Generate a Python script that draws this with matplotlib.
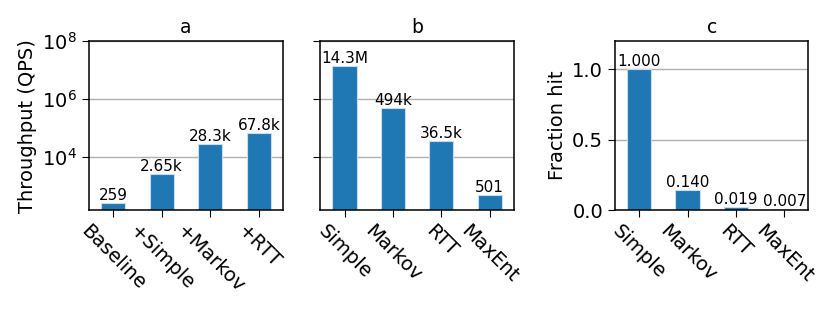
import matplotlib

matplotlib.use("Agg")
import matplotlib.pyplot as plt
from matplotlib.ticker import NullLocator

stages = ["Baseline", "+Simple", "+Markov", "+RTT"]
stage_qps = [259, 2650, 28300, 67800]
stage_text = ["259", "2.65k", "28.3k", "67.8k"]

models = ["Simple", "Markov", "RTT", "MaxEnt"]
model_qps = [14.3e6, 494e3, 36.5e3, 501]
model_text = ["14.3M", "494k", "36.5k", "501"]

hit = [1.000, 0.140, 0.019, 0.007]
hit_text = ["1.000", "0.140", "0.019", "0.007"]

BLUE = "#1f77b4"
plt.rcParams.update(
    {
        "font.family": "DejaVu Sans",
        "font.size": 14,
        "axes.axisbelow": True,
        "axes.linewidth": 1.1,
        "xtick.major.size": 5,
        "ytick.major.size": 5,
    }
)

fig = plt.figure(figsize=(8.3, 3.14), dpi=100)
ax_a = fig.add_axes([0.107, 0.331, 0.234, 0.538])
ax_b = fig.add_axes([0.386, 0.331, 0.233, 0.538], sharey=ax_a)
ax_c = fig.add_axes([0.741, 0.331, 0.233, 0.538])


def bars(ax, labels, values, texts, title):
    x = list(range(len(labels)))
    rects = ax.bar(x, values, width=0.5, color=BLUE, edgecolor="#c9dcee", linewidth=0.8)
    ax.bar_label(rects, labels=texts, padding=0, fontsize=11)
    ax.set_xticks(x, labels, rotation=-45)
    ax.set_xlim(-0.5, len(labels) - 0.5)
    ax.set_title(title, fontsize=13.5)
    ax.grid(axis="y", color="#b0b0b0", linewidth=1)


bars(ax_a, stages, stage_qps, stage_text, "a")
bars(ax_b, models, model_qps, model_text, "b")
bars(ax_c, models, hit, hit_text, "c")

ax_a.set_yscale("log")
ax_a.set_ylim(148, 1e8)
ax_a.set_yticks([1e4, 1e6, 1e8])
ax_a.yaxis.set_minor_locator(NullLocator())
ax_a.set_ylabel("Throughput (QPS)")
ax_b.tick_params(axis="y", labelleft=False)

ax_c.set_ylim(0, 1.2)
ax_c.set_yticks([0.0, 0.5, 1.0])
ax_c.set_ylabel("Fraction hit")

fig.savefig("out.png", dpi=100)
